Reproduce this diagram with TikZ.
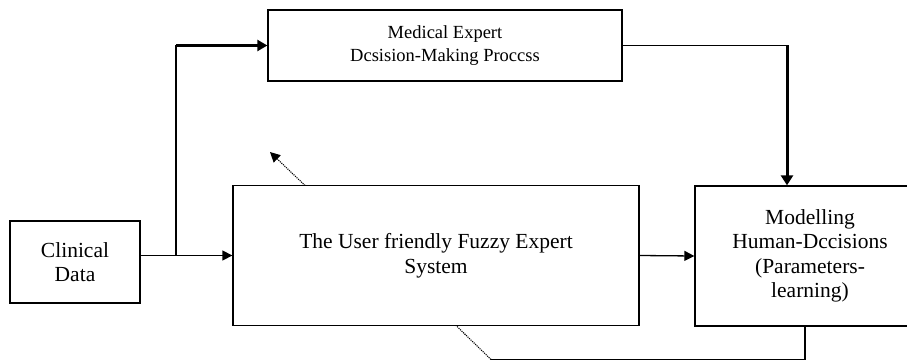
\documentclass[tikz,border=0pt]{standalone}
\usepackage{fontspec}
\setmainfont{Liberation Serif}
\usetikzlibrary{arrows.meta}
\begin{document}
\begin{tikzpicture}[x=1pt,y=-1pt]
  \tikzset{box/.style={draw,line width=1.3pt,align=center,inner sep=0pt,
      font=\fontsize{21.5}{24.5}\selectfont},
    link/.style={line width=1.3pt,-{Triangle[length=10pt,width=10pt]}},
    heavy/.style={line width=3pt,-{Triangle[length=10pt,width=12pt]}}}
  \useasboundingbox (0,0) rectangle (907,361);

  \node [box,minimum width=130pt,minimum height=82pt] (clin) at (75,262) {Clinical\\Data};
  \node [box,minimum width=354pt,minimum height=71pt,font=\fontsize{18.5}{22.5}\selectfont] (med) at (445,45.5) {Medical Expert\\Dcsision-Making Proccss};
  \node [box,minimum width=406pt,minimum height=140pt] (fuzzy) at (436,255.5) {The User friendly Fuzzy Expert\\System};
  \node [box,minimum width=230pt,minimum height=140pt] (model) at (810,256) {Modelling\\Human-Dccisions\\(Parameters-\\learning)};

  \coordinate (br) at (176,255.5);
  \coordinate (dn) at (787,45.5);
  \coordinate (lp) at (805,359.5);
  \coordinate (lq) at (491,359.5);
  \coordinate (up) at (305,185.5);
  \coordinate (tip) at (270,152);

  \draw [link] (clin.east |- fuzzy.west) -- (fuzzy.west);
  \draw [line width=1.3pt] (br) -- (br |- med.west);
  \draw [line width=2.4pt,-{Triangle[length=10pt,width=11pt]}] (br |- med.west) -- (med.west);
  \draw [line width=1.3pt] (med.east) -- (dn);
  \draw [heavy] (dn) -- (dn |- model.north);
  \draw [link] (fuzzy.east) -- (model.west);
  \draw [line width=1.3pt] (lp |- model.south) -- (lp) -- (lq);
  \draw [line width=1.1pt,densely dotted] (lq) -- (456,325.5);
  \draw [line width=1.1pt,densely dotted,-{Triangle[length=10pt,width=10pt]}] (up) -- (tip);
\end{tikzpicture}
\end{document}
